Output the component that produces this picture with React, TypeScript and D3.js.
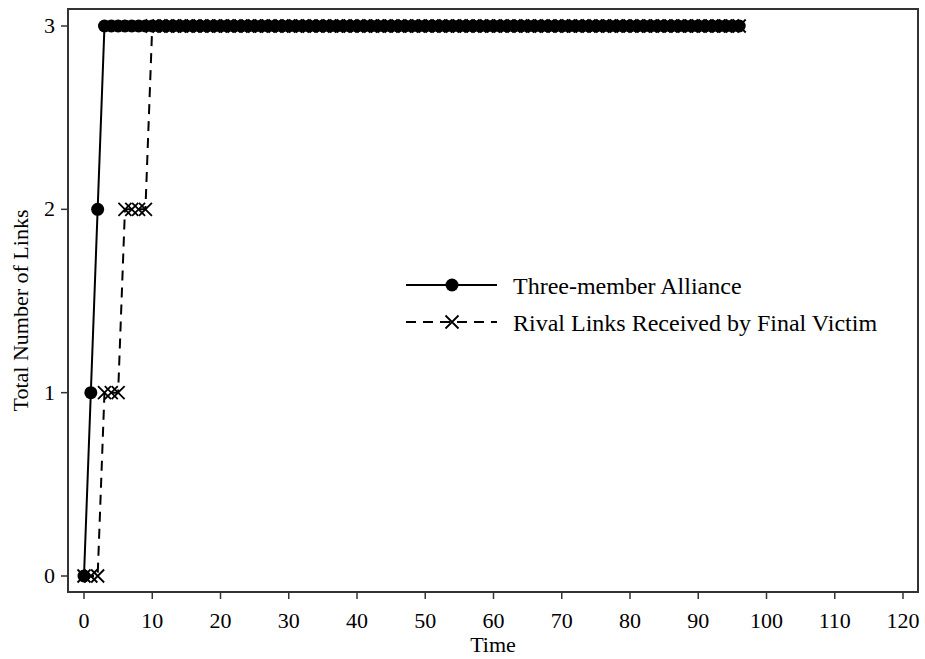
import React from "react";
import * as d3 from "d3";

const allianceTimes: number[] = d3.range(0, 97);
const allianceValues: number[] = allianceTimes.map((t) => (t === 0 ? 0 : t === 1 ? 1 : t === 2 ? 2 : 3));
const rivalTimes: number[] = d3.range(0, 97);
const rivalValues: number[] = rivalTimes.map((t) => (t <= 2 ? 0 : t <= 5 ? 1 : t <= 9 ? 2 : 3));
const xTicks: number[] = [0, 10, 20, 30, 40, 50, 60, 70, 80, 90, 100, 110, 120];
const yTicks: number[] = [0, 1, 2, 3];
const seriesNames: string[] = ["Three-member Alliance", "Rival Links Received by Final Victim"];

export default function App() {
  const W = 925, H = 659;
  const frame = { left: 68, top: 9, right: 918, bottom: 592 };
  const x = d3.scaleLinear().domain([0, 120]).range([84, 903]);
  const y = d3.scaleLinear().domain([0, 3]).range([576, 26]);
  const font = "'Liberation Serif', 'Times New Roman', serif";

  const alliance = allianceTimes.map((t, i) => [t, allianceValues[i]] as [number, number]);
  const rival = rivalTimes.map((t, i) => [t, rivalValues[i]] as [number, number]);
  const line = d3.line<[number, number]>().x((d) => x(d[0])).y((d) => y(d[1]));

  const xMark = (cx: number, cy: number, r: number, key: string) => (
    <path key={key} d={`M${cx - r},${cy - r}L${cx + r},${cy + r}M${cx - r},${cy + r}L${cx + r},${cy - r}`} stroke="#000" strokeWidth={1.8} fill="none" />
  );

  return (
    <svg width={W} height={H} style={{ position: "absolute", left: 0, top: 0, background: "#fff" }}>
      <rect x={0} y={0} width={W} height={H} fill="#fff" />
      {/* series */}
      <path d={line(rival) || ""} fill="none" stroke="#000" strokeWidth={2} strokeDasharray="10,7" />
      {rival.map((d, i) => xMark(x(d[0]), y(d[1]), 6.5, "r" + i))}
      <path d={line(alliance) || ""} fill="none" stroke="#000" strokeWidth={2} />
      {alliance.map((d, i) => (
        <circle key={"a" + i} cx={x(d[0])} cy={y(d[1])} r={6.5} fill="#000" />
      ))}
      {/* frame */}
      <rect x={frame.left} y={frame.top} width={frame.right - frame.left} height={frame.bottom - frame.top} fill="none" stroke="#333" strokeWidth={2} />
      {/* x axis */}
      {xTicks.map((t) => (
        <g key={"xt" + t}>
          <line x1={x(t)} x2={x(t)} y1={frame.bottom} y2={frame.bottom + 7} stroke="#333" strokeWidth={1.5} />
          <text x={x(t)} y={628} textAnchor="middle" fontFamily={font} fontSize={22} fill="#000">{t}</text>
        </g>
      ))}
      <text x={(frame.left + frame.right) / 2} y={652} textAnchor="middle" fontFamily={font} fontSize={22} fill="#000">Time</text>
      {/* y axis */}
      {yTicks.map((t) => (
        <g key={"yt" + t}>
          <line x1={frame.left - 7} x2={frame.left} y1={y(t)} y2={y(t)} stroke="#333" strokeWidth={1.5} />
          <text x={55} y={y(t) + 7} textAnchor="end" fontFamily={font} fontSize={22} fill="#000">{t}</text>
        </g>
      ))}
      <text transform={`translate(28,${(frame.top + frame.bottom) / 2 + 10}) rotate(-90)`} textAnchor="middle" fontFamily={font} fontSize={22} fill="#000">Total Number of Links</text>
      {/* legend */}
      <g>
        <line x1={406} x2={497} y1={285} y2={285} stroke="#000" strokeWidth={2} />
        <circle cx={452} cy={285} r={6.5} fill="#000" />
        <text x={513} y={294} fontFamily={font} fontSize={24} fill="#000">{seriesNames[0]}</text>
        <line x1={406} x2={497} y1={322} y2={322} stroke="#000" strokeWidth={2} strokeDasharray="10,7" />
        {xMark(452, 322, 6.5, "lg")}
        <text x={513} y={331} fontFamily={font} fontSize={24} fill="#000">{seriesNames[1]}</text>
      </g>
    </svg>
  );
}
